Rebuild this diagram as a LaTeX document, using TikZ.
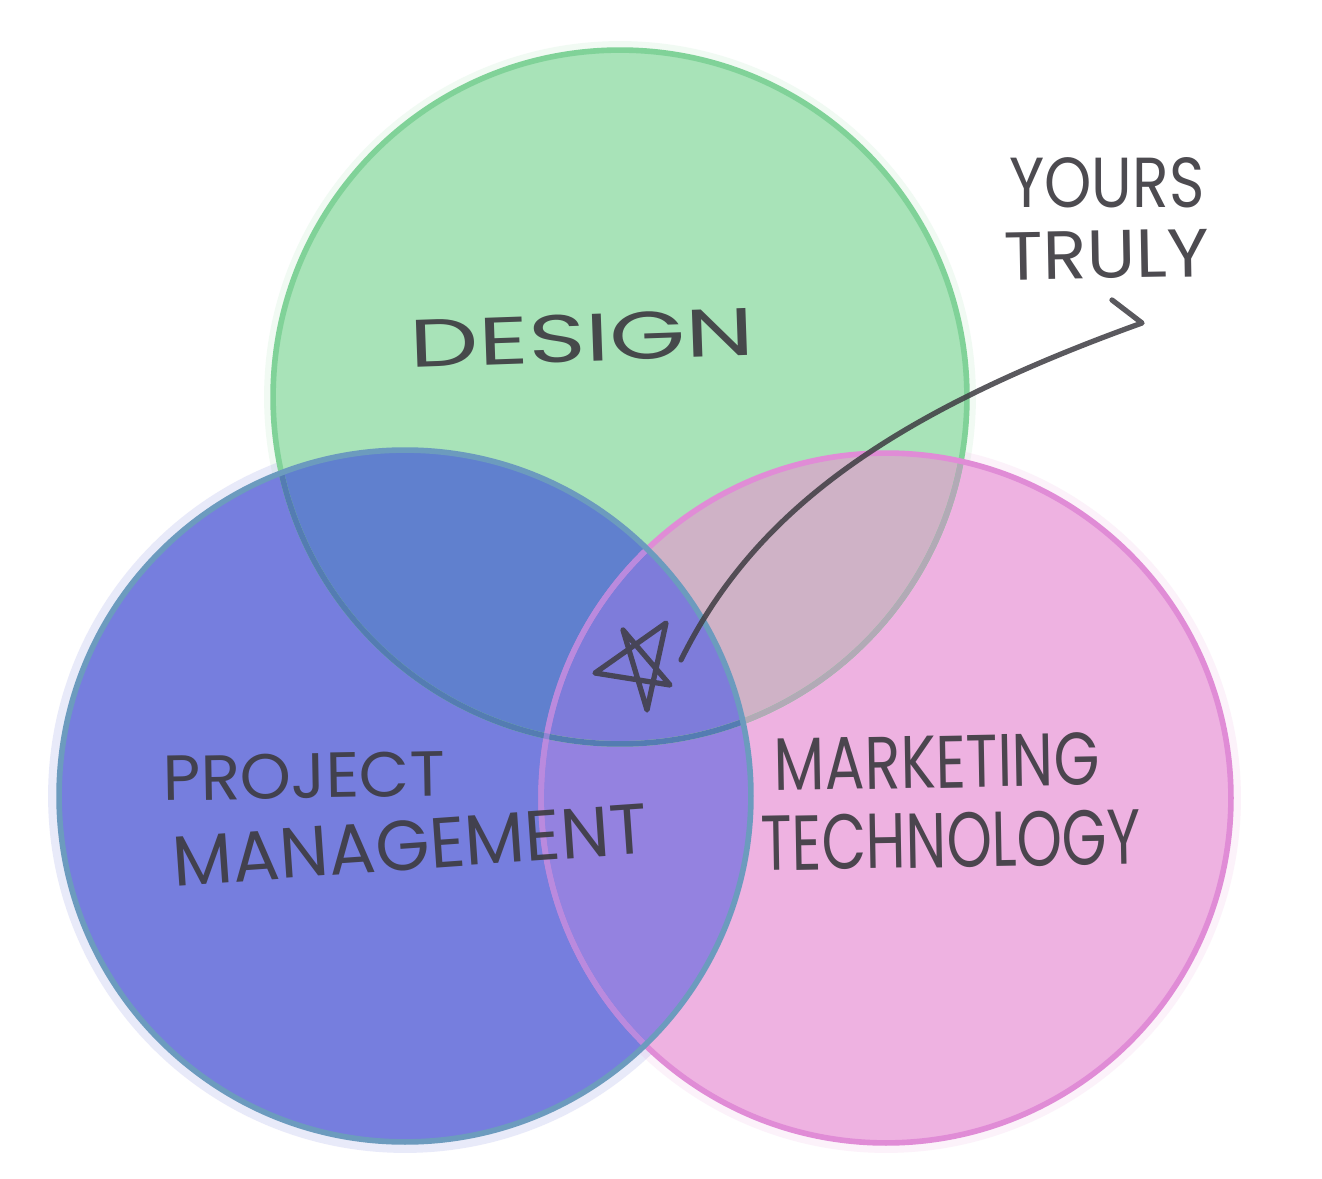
\documentclass[tikz,border=0pt]{standalone}
\usepackage{fontspec}
\setmainfont{Poppins}
\usepackage{graphicx}
\definecolor{gfill}{RGB}{168,227,184}
\definecolor{bfill}{RGB}{118,126,222}
\definecolor{pfill}{RGB}{238,178,225}
\definecolor{gpfill}{RGB}{207,178,198}
\definecolor{gbfill}{RGB}{96,128,206}
\definecolor{bpfill}{RGB}{148,130,224}
\definecolor{gbpfill}{RGB}{126,124,218}
\definecolor{gline}{RGB}{128,210,152}
\definecolor{ginp}{RGB}{178,170,182}
\definecolor{ginb}{RGB}{84,124,178}
\definecolor{bline}{RGB}{108,155,190}
\definecolor{pline}{RGB}{224,140,214}
\definecolor{pinb}{RGB}{170,138,226}
\definecolor{ink}{RGB}{62,60,66}
\newcommand\hw[3]{\resizebox{#1}{#2}{#3}}
\tikzset{
  venn/.style={circle, inner sep=0pt, minimum size=13.88cm, draw=none},
  rim/.style={line width=3.2pt},
  halo/.style={fill opacity=0.16},
  hand/.style={inner sep=0pt, text=ink, text opacity=0.92},
  pencil/.style={draw=ink, line width=3pt, line cap=round, line join=round, opacity=0.85},
}
\begin{document}
\begin{tikzpicture}[x=0.02cm,y=-0.02cm]
\useasboundingbox (0,0) rectangle (1322,1179);
\fill[white] (0,0) rectangle (1322,1179);
% soft halos
\fill[gfill, halo] (620,397) circle[radius=7.12cm];
\fill[bfill, halo] (405,796) circle[radius=7.14cm];
\fill[pfill, halo] (886,798) circle[radius=7.1cm];
% circles
\node[venn, fill=gfill] (design) at (620,397) {};
\node[venn, fill=pfill] (mt) at (886,798) {};
\node[venn, fill=bfill] (pm) at (405,796) {};
% overlaps
\begin{scope}
  \clip (design.center) circle[radius=6.94cm];
  \fill[gpfill] (mt.center) circle[radius=6.94cm];
\end{scope}
\begin{scope}
  \clip (pm.center) circle[radius=6.94cm];
  \fill[gbfill] (design.center) circle[radius=6.94cm];
  \fill[bpfill] (mt.center) circle[radius=6.94cm];
  \clip (mt.center) circle[radius=6.94cm];
  \fill[gbpfill] (design.center) circle[radius=6.94cm];
\end{scope}
% outlines
\draw[rim, gline] (design.center) circle[radius=6.94cm];
\begin{scope}
  \clip (mt.center) circle[radius=6.9cm];
  \draw[rim, ginp] (design.center) circle[radius=6.94cm];
\end{scope}
\draw[rim, pline] (mt.center) circle[radius=6.9cm];
\begin{scope}
  \clip (pm.center) circle[radius=6.92cm];
  \draw[rim, ginb] (design.center) circle[radius=6.94cm];
  \draw[rim, pinb, opacity=0.7] (mt.center) circle[radius=6.9cm];
\end{scope}
\draw[rim, bline] (pm.center) circle[radius=6.92cm];
% labels
\node[hand, rotate=2] (tdesign) at (582,338) {\hw{6.9cm}{0.95cm}{DESIGN}};
\node[hand] (tyours) at (1107,183) {\hw{3.9cm}{1.0cm}{YOURS}};
\node[hand, rotate=1] (ttruly) at (1107,255) {\hw{4.1cm}{0.95cm}{TRULY}};
\node[hand, rotate=1] (tproject) at (304,776) {\hw{5.64cm}{0.9cm}{PROJECT}};
\node[hand, rotate=4] (tmanage) at (410,845) {\hw{9.5cm}{1.0cm}{MANAGEMENT}};
\node[hand, rotate=1] (tmarket) at (937,762) {\hw{6.5cm}{1.05cm}{MARKETING}};
\node[hand, rotate=1] (ttech) at (951,840) {\hw{7.6cm}{1.1cm}{TECHNOLOGY}};
% star
\draw[pencil] (623,630) -- (670,685) -- (595,673) -- (666,623) -- (647,710) -- cycle;
\coordinate (starend) at (681,660);
\coordinate (tip) at (1142,323);
\coordinate (barb) at (1112,300);
\draw[pencil] (starend) .. controls (755,510) and (892,413) .. (tip) -- (barb);
\end{tikzpicture}
\end{document}
